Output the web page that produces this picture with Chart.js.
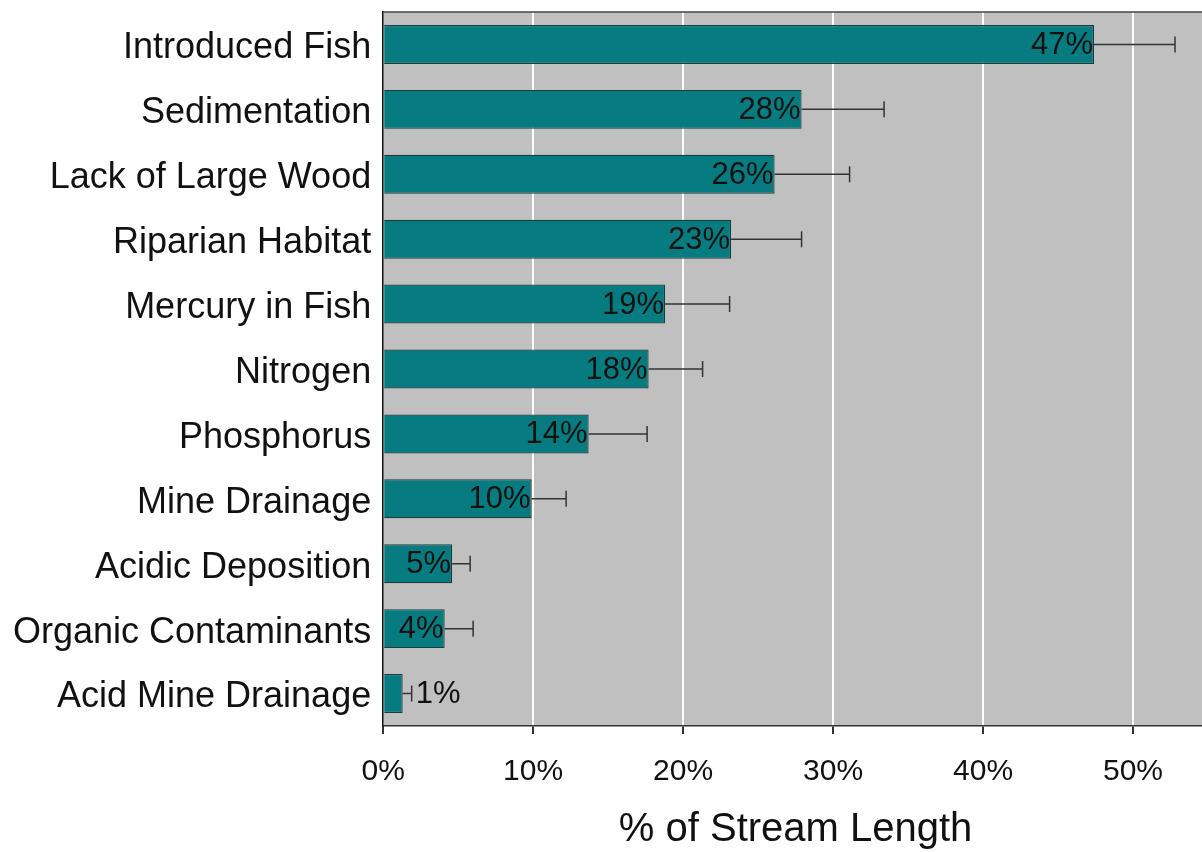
<!DOCTYPE html>
<html>
<head>
<meta charset="utf-8">
<script src="https://cdn.jsdelivr.net/npm/chart.js@4"></script>
<style>
  html, body { margin: 0; padding: 0; background: #fff; overflow: hidden; }
  #wrap { width: 1228px; height: 852px; }
</style>
</head>
<body>
<div id="wrap"><canvas id="chart"></canvas></div>
<script>
const categories = [
  'Introduced Fish', 'Sedimentation', 'Lack of Large Wood', 'Riparian Habitat',
  'Mercury in Fish', 'Nitrogen', 'Phosphorus', 'Mine Drainage',
  'Acidic Deposition', 'Organic Contaminants', 'Acid Mine Drainage'
];
const values = [47.4, 27.9, 26.1, 23.2, 18.8, 17.7, 13.7, 9.9, 4.6, 4.1, 1.3];
const upperErr = [52.8, 33.4, 31.1, 27.9, 23.1, 21.3, 17.6, 12.2, 5.8, 6.0, 1.9];
const valueLabels = ['47%', '28%', '26%', '23%', '19%', '18%', '14%', '10%', '5%', '4%', '1%'];

const FONT = '"Liberation Sans", Arial, sans-serif';

// grey plot background + top frame line
const plotBg = {
  id: 'plotBg',
  beforeDraw(chart) {
    const { ctx, chartArea: a } = chart;
    ctx.save();
    ctx.fillStyle = '#c0c0c0';
    ctx.fillRect(a.left, a.top, a.right - a.left, a.bottom - a.top);
    ctx.restore();
  },
  afterDraw(chart) {
    const { ctx, chartArea: a } = chart;
    ctx.save();
    ctx.strokeStyle = '#444';
    ctx.lineWidth = 1.5;
    ctx.beginPath();
    ctx.moveTo(a.left, a.top);
    ctx.lineTo(a.right, a.top);
    ctx.stroke();
    ctx.restore();
  }
};

// one-sided error bars and value labels
const barExtras = {
  id: 'barExtras',
  afterDatasetsDraw(chart) {
    const { ctx } = chart;
    const xs = chart.scales.x;
    const meta = chart.getDatasetMeta(0);
    ctx.save();
    meta.data.forEach((bar, i) => {
      const x0 = xs.getPixelForValue(values[i]);
      const x1 = xs.getPixelForValue(upperErr[i]);
      const y = bar.y;
      ctx.strokeStyle = '#333';
      ctx.lineWidth = 1.5;
      ctx.beginPath();
      ctx.moveTo(x0, y);
      ctx.lineTo(x1, y);
      ctx.moveTo(x1, y - 8);
      ctx.lineTo(x1, y + 8);
      ctx.stroke();

      ctx.fillStyle = '#111';
      ctx.font = '31px ' + FONT;
      ctx.textBaseline = 'middle';
      const w = ctx.measureText(valueLabels[i]).width;
      if (w + 4 < x0 - xs.left) {
        ctx.textAlign = 'right';
        ctx.fillText(valueLabels[i], x0 - 1, y + 1);
      } else {
        ctx.textAlign = 'left';
        ctx.fillText(valueLabels[i], x1 + 4, y + 1);
      }
    });
    ctx.restore();
  }
};

new Chart(document.getElementById('chart'), {
  type: 'bar',
  data: {
    labels: categories,
    datasets: [{
      data: values,
      backgroundColor: '#077c80',
      borderColor: '#1d3b3c',
      borderWidth: 1.2,
      categoryPercentage: 1,
      barPercentage: 0.6
    }]
  },
  options: {
    indexAxis: 'y',
    responsive: true,
    maintainAspectRatio: false,
    animation: false,
    layout: { padding: { top: 0, left: 1, right: 0, bottom: 0 } },
    plugins: {
      legend: { display: false },
      tooltip: { enabled: false }
    },
    scales: {
      x: {
        min: 0,
        max: 55,
        ticks: {
          stepSize: 10,
          color: '#111',
          font: { family: FONT, size: 30 },
          padding: 20,
          callback: v => (v % 10 === 0 && v <= 50) ? v + '%' : ''
        },
        grid: {
          color: ctx => ctx.tick && ctx.tick.value === 0 ? 'rgba(0,0,0,0)' : '#ffffff',
          lineWidth: 2,
          tickColor: '#333',
          tickLength: 8
        },
        border: { display: true, color: '#333', width: 1.5 },
        title: {
          display: true,
          text: '% of Stream Length',
          color: '#111',
          font: { family: FONT, size: 40, lineHeight: 1 },
          padding: { top: 0, bottom: 2 }
        }
      },
      y: {
        ticks: {
          color: '#111',
          font: { family: FONT, size: 36, lineHeight: 0 },
          padding: 12,
          labelOffset: 4,
          autoSkip: false
        },
        grid: { display: false, drawTicks: false },
        border: { display: true, color: '#111', width: 1.5 }
      }
    }
  },
  plugins: [plotBg, barExtras]
});
</script>
</body>
</html>
